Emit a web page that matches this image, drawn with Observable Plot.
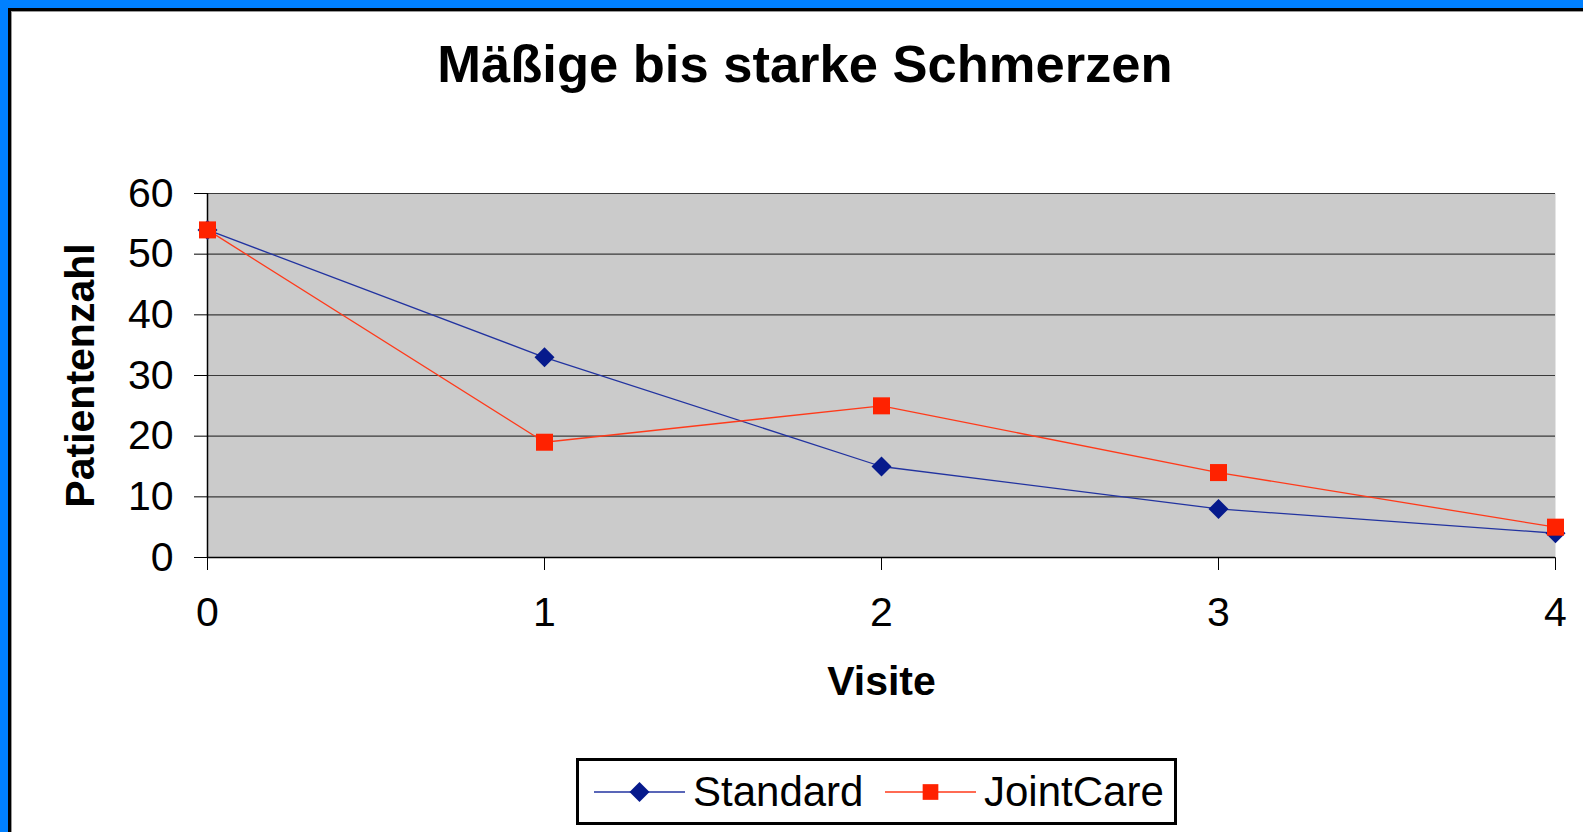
<!DOCTYPE html>
<html>
<head>
<meta charset="utf-8">
<script src="https://cdn.jsdelivr.net/npm/d3@7"></script>
<script src="https://cdn.jsdelivr.net/npm/@observablehq/plot@0.6"></script>
<style>
  html, body { margin: 0; padding: 0; width: 1583px; height: 832px; overflow: hidden; background: #0080ff; }
  body { font-family: "Liberation Sans", Arial, sans-serif; position: relative; }
  #inner { position: absolute; left: 8px; top: 8px; right: 0; bottom: 0; background: #fff;
           border-left: 3px solid #000; border-top: 3px solid #000; }
  #inner2 { position: absolute; left: 0; top: 0; right: 0; bottom: 0; border-left: 1px solid #999; border-top: 1px solid #999; }
  #title { position: absolute; left: 305px; width: 1000px; top: 38px; text-align: center;
           font-size: 52.5px; font-weight: bold; line-height: 1; color: #000; white-space: nowrap; }
  #chart { position: absolute; left: 11px; top: 110px; }
  #legend { position: absolute; left: 576px; top: 758px; width: 595px; height: 61px; border: 3px solid #000; background: #fff; }
  .lg-item { position: absolute; top: 0; height: 61px; display: flex; align-items: center; }
  .lg-text { font-size: 42px; line-height: 1; color: #000; margin-left: 8px; white-space: nowrap; }
</style>
</head>
<body>
<div id="inner"><div id="inner2"></div></div>
<div id="title">Mäßige bis starke Schmerzen</div>
<div id="chart"></div>
<div id="legend"></div>
<script>
// ---- data ----
const visits = [0, 1, 2, 3, 4];
const standard = [54, 33, 15, 8, 4];
const jointCare = [54, 19, 25, 14, 5];
const seriesNames = ["Standard", "JointCare"];
const yTicks = [0, 10, 20, 30, 40, 50, 60];
const gridValues = [10, 20, 30, 40, 50, 60];
const xLabel = "Visite";
const yLabel = "Patientenzahl";

const colors = {
  Standard: { line: "#2233a0", marker: "#061a8c" },
  JointCare: { line: "#ff3a1a", marker: "#ff2200" }
};

const rows = [];
visits.forEach((v, i) => {
  rows.push({ visit: v, value: standard[i], series: "Standard" });
});
visits.forEach((v, i) => {
  rows.push({ visit: v, value: jointCare[i], series: "JointCare" });
});
const std = rows.filter(d => d.series === "Standard");
const jc = rows.filter(d => d.series === "JointCare");

const font = "'Liberation Sans', Arial, sans-serif";

const chart = Plot.plot({
  width: 1572,
  height: 610,
  marginLeft: 196,
  marginRight: 28,
  marginTop: 83,
  marginBottom: 163,
  style: { background: "transparent", fontFamily: font, fontSize: "41px", color: "#000", overflow: "visible" },
  x: { domain: [0, 4], ticks: visits, tickSize: 13, tickPadding: 26, label: null, tickFormat: d3.format("d") },
  y: { domain: [0, 60], ticks: yTicks, tickSize: 13, tickPadding: 21, label: null },
  marks: [
    Plot.frame({ fill: "#cbcbcb", stroke: null }),
    Plot.ruleY(gridValues, { stroke: "#3a3a3a", strokeWidth: 1.2 }),
    Plot.ruleY([0], { stroke: "#000", strokeWidth: 1.5 }),
    Plot.ruleX([0], { stroke: "#000", strokeWidth: 1.5 }),
    Plot.line(std, { x: "visit", y: "value", stroke: colors.Standard.line, strokeWidth: 1.3 }),
    Plot.dot(std, { x: "visit", y: "value", symbol: d3.symbolDiamond2, r: 9, fill: colors.Standard.marker, stroke: null }),
    Plot.line(jc, { x: "visit", y: "value", stroke: colors.JointCare.line, strokeWidth: 1.3 }),
    Plot.dot(jc, { x: "visit", y: "value", symbol: d3.symbolSquare, r: 9.6, fill: colors.JointCare.marker, stroke: null }),
    Plot.text([yLabel], { text: d => d, frameAnchor: "left", textAnchor: "middle", lineAnchor: "middle", dx: -127, rotate: -90, fontSize: 41, fontWeight: "bold", fill: "#000" }),
    Plot.text([xLabel], { text: d => d, frameAnchor: "bottom", textAnchor: "middle", lineAnchor: "middle", dy: 124, fontSize: 41, fontWeight: "bold", fill: "#000" })
  ]
});
document.getElementById("chart").appendChild(chart);

// ---- legend ----
const legend = document.getElementById("legend");
const legendLayout = [
  { name: "Standard", left: 15, symbol: d3.symbolDiamond2, size: Math.PI * 9 * 9 },
  { name: "JointCare", left: 306, symbol: d3.symbolSquare, size: Math.PI * 9.6 * 9.6 * 0.85 }
];
legendLayout.forEach(item => {
  const div = document.createElement("div");
  div.className = "lg-item";
  div.style.left = item.left + "px";
  const svg = d3.create("svg").attr("width", 91).attr("height", 30);
  svg.append("line").attr("x1", 0).attr("x2", 91).attr("y1", 15).attr("y2", 15)
    .attr("stroke", colors[item.name].line).attr("stroke-width", 1.3);
  svg.append("path").attr("transform", "translate(45.5,15)")
    .attr("d", d3.symbol(item.symbol, item.size)()).attr("fill", colors[item.name].marker);
  div.appendChild(svg.node());
  const span = document.createElement("span");
  span.className = "lg-text";
  span.textContent = item.name;
  div.appendChild(span);
  legend.appendChild(div);
});
</script>
</body>
</html>
